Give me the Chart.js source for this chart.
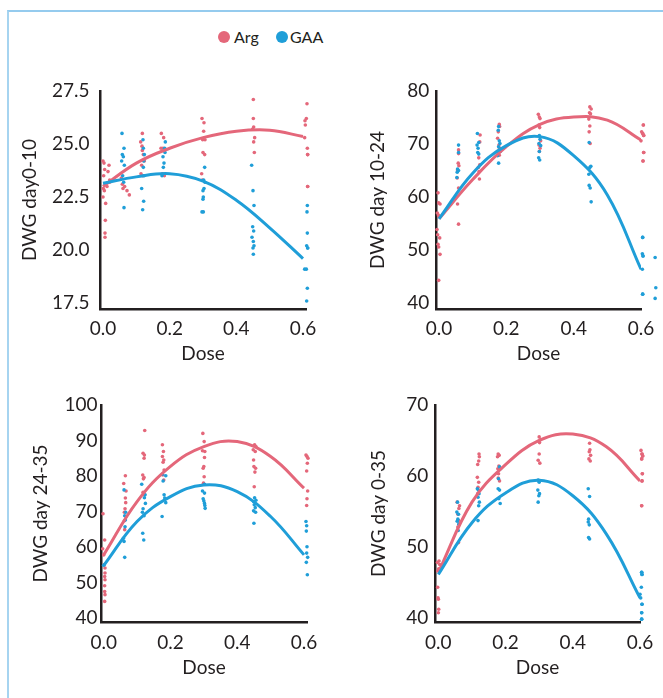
<!DOCTYPE html>
<html>
<head>
<meta charset="utf-8">
<script src="https://cdn.jsdelivr.net/npm/chart.js@4.4.0/dist/chart.umd.min.js"></script>
<style>
  body { margin: 0; background: #fff; width: 663px; height: 698px; overflow: hidden; position: relative; font-family: Lato, sans-serif; }
  .frame { position: absolute; left: 7px; top: 10px; width: 720px; height: 740px; border-left: 2px solid #a6d4f0; border-top: 2px solid #95cbee; }
  .dot { position: absolute; width: 12px; height: 12px; border-radius: 50%; top: 31px; }
  .lab { position: absolute; top: 27px; font-size: 16px; color: #231f20; line-height: 20px; }
  canvas { position: absolute; }
</style>
</head>
<body>
<div class="frame"></div>
<span class="dot" style="left:218px;background:#e4677a"></span><span class="lab" style="left:234px">Arg</span>
<span class="dot" style="left:276px;background:#1f9ed8"></span><span class="lab" style="left:290px">GAA</span>

<canvas id="c1" width="320" height="320" style="left:10px;top:60px"></canvas>
<canvas id="c2" width="323" height="320" style="left:340px;top:60px"></canvas>
<canvas id="c3" width="320" height="320" style="left:10px;top:375px"></canvas>
<canvas id="c4" width="323" height="320" style="left:340px;top:375px"></canvas>

<script>
const ARG = '#e4677a';
const GAA = '#1f9ed8';
const INK = '#231f20';

Chart.defaults.font.family = 'Lato, sans-serif';
Chart.defaults.font.size = 19;
Chart.defaults.color = INK;

// x axis shared by all panels
const doseTicks = [0, 0.2, 0.4, 0.6];
const curveDose = [0, 0.1, 0.2, 0.3, 0.4, 0.5, 0.6];

// --- DWG day0-10
const p1Ticks = [17.5, 20, 22.5, 25, 27.5];
const p1ArgFit = [23.0, 24.1, 24.8, 25.3, 25.6, 25.65, 25.35];
const p1GaaFit = [23.15, 23.45, 23.6, 23.25, 22.35, 21.05, 19.6];
const p1Arg = [
  [0.000,24.2],[0.003,24.1],[0.018,24.0],[0.005,23.8],[0.015,23.7],[0.002,23.5],[0.020,23.3],[0.012,23.0],
  [0.001,22.9],[0.004,22.8],[0.000,22.5],[0.008,22.2],[0.007,21.4],[0.006,20.8],[0.006,20.6],[0.020,23.2],
  [0.055,23.4],[0.058,23.1],[0.060,22.9],[0.065,23.0],[0.072,22.8],[0.079,22.6],
  [0.118,25.5],[0.113,25.1],[0.117,24.9],[0.118,24.7],[0.121,24.5],[0.124,24.2],[0.116,24.0],[0.114,23.6],[0.119,23.5],
  [0.175,25.5],[0.182,25.3],[0.174,24.8],[0.180,24.8],[0.178,23.6],[0.184,23.5],
  [0.297,26.2],[0.303,26.0],[0.302,25.6],[0.299,25.2],[0.306,25.2],[0.300,24.6],[0.305,24.5],[0.296,23.6],[0.298,23.3],
  [0.451,27.1],[0.451,26.2],[0.452,25.8],[0.449,25.7],[0.455,25.3],[0.452,25.1],[0.454,24.6],
  [0.612,26.9],[0.610,26.2],[0.606,26.1],[0.607,25.9],[0.605,25.3],[0.613,24.8],[0.614,24.5],[0.614,23.0]
];
const p1Gaa = [
  [0.057,25.5],[0.063,24.8],[0.058,24.5],[0.061,24.4],[0.056,24.2],[0.064,24.0],[0.059,23.5],[0.062,23.2],[0.063,22.0],
  [0.120,25.2],[0.121,24.8],[0.124,24.5],[0.122,24.2],[0.121,23.9],[0.123,23.5],[0.116,22.9],[0.122,22.3],[0.119,21.9],
  [0.187,25.1],[0.185,24.8],[0.186,24.6],[0.180,24.4],[0.183,24.1],[0.181,23.9],[0.177,23.5],
  [0.305,23.9],[0.302,23.3],[0.306,23.2],[0.303,22.9],[0.300,22.8],[0.301,22.5],[0.300,22.4],[0.297,21.8],[0.301,21.8],
  [0.446,24.0],[0.450,22.8],[0.453,22.1],[0.449,21.1],[0.452,20.9],[0.447,20.6],[0.451,20.4],[0.453,20.2],[0.450,20.1],[0.451,19.8],
  [0.613,22.1],[0.612,21.8],[0.613,20.8],[0.611,20.2],[0.614,20.1],[0.605,19.1],[0.610,19.1],[0.613,18.2],[0.611,17.6]
];

// --- DWG day 10-24
const p2Ticks = [40, 50, 60, 70, 80];
const p2ArgFit = [55.9, 63.3, 69.5, 73.7, 75.1, 74.5, 70.75];
const p2GaaFit = [55.9, 64.5, 69.7, 71.4, 67.8, 60.4, 46.4];
const p2Arg = [
  [-0.003,60.8],[-0.001,58.9],[0.003,58.7],[-0.005,57.0],[-0.002,56.6],[0.000,56.4],[-0.006,53.9],[-0.004,52.9],
  [0.002,52.3],[-0.003,51.1],[-0.001,50.6],[0.003,49.2],[-0.001,44.3],
  [0.058,68.9],[0.058,68.2],[0.057,66.4],[0.059,65.9],[0.055,65.1],[0.054,63.6],[0.058,61.7],[0.055,58.7],[0.058,54.9],
  [0.122,71.7],[0.121,70.4],[0.118,67.4],[0.121,66.1],[0.117,65.6],[0.119,64.8],[0.120,63.4],
  [0.179,73.7],[0.180,73.3],[0.176,72.3],[0.174,71.1],[0.178,69.8],[0.180,69.2],[0.176,68.2],[0.179,67.9],
  [0.295,75.6],[0.298,75.1],[0.300,74.8],[0.297,73.6],[0.299,73.1],[0.302,70.6],[0.297,69.8],[0.300,69.2],[0.298,68.6],
  [0.448,77.0],[0.452,76.6],[0.447,75.9],[0.450,75.7],[0.445,74.7],[0.448,73.4],[0.446,72.3],[0.449,70.1],
  [0.607,73.6],[0.602,72.3],[0.605,72.0],[0.608,71.6],[0.600,70.6],[0.608,68.4],[0.606,66.8]
];
const p2Gaa = [
  [0.058,69.8],[0.058,68.4],[0.055,65.3],[0.058,65.0],[0.054,64.7],[0.053,63.7],
  [0.114,72.0],[0.118,70.3],[0.113,69.8],[0.116,69.2],[0.115,68.4],[0.118,68.1],
  [0.177,73.3],[0.176,72.6],[0.179,70.6],[0.181,70.1],[0.177,69.5],[0.182,68.6],[0.174,67.8],[0.177,66.4],
  [0.298,71.6],[0.300,70.9],[0.297,70.1],[0.302,69.7],[0.298,68.6],[0.296,67.4],[0.299,67.0],
  [0.446,70.3],[0.451,65.8],[0.448,65.6],[0.445,64.3],[0.446,62.2],[0.449,61.7],[0.452,59.1],
  [0.605,52.4],[0.604,49.3],[0.606,48.9],[0.604,46.4],[0.605,41.7],
  [0.642,48.6],[0.644,42.9],[0.642,40.9]
];

// --- DWG day 24-35
const p3Ticks = [40, 50, 60, 70, 80, 90, 100];
const p3ArgFit = [57.8, 72.8, 82.7, 88.3, 89.7, 85.5, 76.6];
const p3GaaFit = [54.8, 67.2, 74.2, 77.5, 75.6, 68.6, 57.8];
const p3Arg = [
  [-0.002,69.4],[0.003,62.0],[-0.003,59.5],[0.000,57.8],[0.001,55.0],[0.004,54.1],[0.004,52.7],[0.003,51.7],
  [0.004,50.8],[0.003,49.1],[0.003,47.5],[0.004,46.6],[0.003,44.7],
  [0.065,80.1],[0.060,77.9],[0.067,75.8],[0.065,73.8],[0.066,72.5],[0.064,70.8],[0.062,69.8],[0.067,68.6],[0.062,67.4],[0.063,64.9],
  [0.123,92.8],[0.118,86.4],[0.122,85.9],[0.121,85.0],[0.117,80.3],[0.121,79.6],[0.119,79.2],[0.118,75.4],[0.122,74.7],
  [0.176,88.8],[0.179,86.9],[0.176,85.5],[0.180,84.5],[0.178,83.9],[0.181,81.7],[0.177,80.3],[0.180,78.9],
  [0.297,92.0],[0.301,89.7],[0.296,87.1],[0.303,86.9],[0.302,85.2],[0.300,82.7],[0.298,82.2],[0.301,79.8],[0.299,78.0],
  [0.452,88.8],[0.456,88.3],[0.448,87.4],[0.454,86.9],[0.449,84.5],[0.450,82.7],[0.455,82.2],[0.453,81.1],[0.451,77.0],
  [0.606,85.9],[0.609,85.5],[0.612,85.0],[0.610,83.6],[0.608,81.4],[0.611,75.8],[0.609,73.6],[0.608,71.7]
];
const p3Gaa = [
  [0.000,54.9],
  [0.061,76.1],[0.066,69.8],[0.063,68.8],[0.065,67.6],[0.064,65.7],[0.059,62.5],[0.061,61.6],[0.063,57.1],
  [0.114,77.7],[0.124,74.7],[0.122,73.9],[0.125,72.3],[0.118,70.8],[0.116,69.8],[0.121,68.8],[0.117,63.9],[0.120,62.0],
  [0.176,80.5],[0.186,80.1],[0.178,78.6],[0.181,74.7],[0.183,73.8],[0.186,72.5],[0.175,68.6],
  [0.302,77.7],[0.296,75.8],[0.302,75.2],[0.298,73.6],[0.300,73.0],[0.302,72.3],[0.303,71.7],[0.304,70.9],
  [0.452,73.9],[0.456,73.2],[0.449,72.8],[0.451,71.9],[0.454,71.1],[0.449,70.2],[0.455,69.8],[0.450,66.7],
  [0.606,67.2],[0.608,66.0],[0.607,64.5],[0.609,60.1],[0.608,58.3],[0.611,57.1],[0.607,55.7],[0.610,52.2]
];

// --- DWG day 0-35
const p4Ticks = [40, 50, 60, 70];
const p4ArgFit = [46.4, 56.3, 61.6, 65.0, 65.9, 64.1, 59.3];
const p4GaaFit = [46.1, 53.4, 57.6, 59.4, 57.2, 51.8, 42.8];
const p4Arg = [
  [0.002,48.0],[-0.003,47.8],[0.004,47.5],[0.001,46.9],[-0.002,46.6],[-0.002,44.3],[-0.001,42.8],[0.000,42.6],[0.001,41.2],[0.000,40.7],
  [0.056,56.3],[0.063,55.8],[0.061,55.4],[0.058,54.6],[0.060,53.7],[0.062,53.2],[0.058,52.8],[0.060,50.6],
  [0.121,63.1],[0.122,62.7],[0.120,62.1],[0.117,61.6],[0.116,59.8],[0.120,59.1],[0.118,58.4],[0.117,57.5],
  [0.178,63.1],[0.181,62.9],[0.176,62.7],[0.180,61.4],[0.177,61.0],[0.179,60.3],[0.178,59.7],[0.182,59.3],
  [0.300,65.5],[0.304,65.1],[0.301,64.7],[0.300,63.1],[0.297,62.2],[0.302,61.8],
  [0.450,64.6],[0.451,63.7],[0.449,63.4],[0.453,62.9],[0.448,62.4],[0.452,62.1],
  [0.603,63.6],[0.606,63.1],[0.608,62.8],[0.605,62.4],[0.607,60.3],[0.606,59.3],[0.605,55.8]
];
const p4Gaa = [
  [0.057,56.3],[0.055,54.9],[0.060,54.6],[0.058,53.9],[0.056,53.6],[0.061,53.2],[0.059,52.3],
  [0.116,58.2],[0.119,58.0],[0.121,57.5],[0.118,57.0],[0.122,56.3],[0.120,55.8],[0.118,53.7],
  [0.182,61.3],[0.185,61.0],[0.179,59.6],[0.178,58.2],[0.182,58.0],[0.180,56.8],[0.184,56.1],
  [0.297,59.4],[0.300,59.1],[0.296,58.0],[0.301,57.5],[0.299,57.2],[0.297,56.3],
  [0.446,58.2],[0.450,57.1],[0.447,53.9],[0.446,53.5],[0.449,53.1],[0.447,51.3],[0.450,51.1],
  [0.605,46.4],[0.606,46.1],[0.604,44.3],[0.600,43.3],[0.602,42.8],[0.606,41.9],[0.605,40.7],[0.605,39.8]
];

function pts(list) { return list.map(([x, y]) => ({ x, y })); }
function fit(vals) { return curveDose.map((x, i) => ({ x, y: vals[i] })); }

// Chart.js skips points lying right of the chart area even with clip:false,
// so redraw those (already placed by the x scale) after the datasets
const overflowDots = {
  id: 'overflowDots',
  afterDatasetsDraw(chart) {
    const area = chart.chartArea;
    chart.data.datasets.forEach((ds, i) => {
      if (ds.showLine) return;
      chart.getDatasetMeta(i).data.forEach(el => {
        if (el.x > area.right + 1.5) el.draw(chart.ctx);
      });
    });
  }
};

function makePanel(id, p) {
  const lineDs = (vals, color) => ({
    data: fit(vals), showLine: true, borderColor: color, borderWidth: 3,
    pointRadius: 0, tension: 0.4, fill: false
  });
  const dotDs = (list, color) => ({
    data: pts(list), backgroundColor: color, borderWidth: 0, pointRadius: 1.8, clip: false
  });

  new Chart(document.getElementById(id), {
    type: 'scatter',
    data: {
      datasets: [
        lineDs(p.gaaFit, GAA),
        lineDs(p.argFit, ARG),
        dotDs(p.gaa, GAA),
        dotDs(p.arg, ARG)
      ]
    },
    plugins: [overflowDots],
    options: {
      responsive: false,
      animation: false,
      events: [],
      layout: { padding: p.pad },
      plugins: { legend: { display: false }, tooltip: { enabled: false } },
      scales: {
        x: {
          type: 'linear', min: p.xMin, max: p.xMax,
          afterBuildTicks: s => { s.ticks = doseTicks.map(v => ({ value: v })); },
          afterFit: s => { s.height = p.xH; },
          grid: { display: false, drawTicks: false },
          border: { color: INK, width: 2.5 },
          ticks: { padding: p.xPad, color: INK, callback: v => v.toFixed(1) },
          title: { display: true, text: 'Dose', color: INK, padding: { top: 0, bottom: p.xTitlePad } }
        },
        y: {
          type: 'linear', min: p.yMin, max: p.yMax,
          afterBuildTicks: s => { s.ticks = p.ticks.map(v => ({ value: v })); },
          afterFit: s => { s.width = p.yW; },
          grid: { display: false, drawTicks: false },
          border: { color: INK, width: 2.5 },
          ticks: { padding: p.yPad, color: INK, callback: v => p.dec ? v.toFixed(1) : v },
          title: { display: true, text: p.title, color: INK, padding: { top: p.yTitlePad, bottom: 0 } }
        }
      }
    }
  });
}

makePanel('c1', {
  title: 'DWG day0-10', ticks: p1Ticks, dec: true,
  argFit: p1ArgFit, gaaFit: p1GaaFit, arg: p1Arg, gaa: p1Gaa,
  xMin: -0.009, xMax: 0.609, yMin: 17.22, yMax: 27.5,
  pad: { top: 31, right: 24, left: 0, bottom: 0 },
  yW: 90, xH: 71, xPad: 8, yPad: 10.5, xTitlePad: 14.6, yTitlePad: 8.6
});
makePanel('c2', {
  title: 'DWG day 10-24', ticks: p2Ticks, dec: false,
  argFit: p2ArgFit, gaaFit: p2GaaFit, arg: p2Arg, gaa: p2Gaa,
  xMin: -0.009, xMax: 0.6, yMin: 38.9, yMax: 80,
  pad: { top: 31, right: 22, left: 0, bottom: 0 },
  yW: 96, xH: 71, xPad: 8, yPad: 6.7, xTitlePad: 14.6, yTitlePad: 26.6
});
makePanel('c3', {
  title: 'DWG day 24-35', ticks: p3Ticks, dec: false,
  argFit: p3ArgFit, gaaFit: p3GaaFit, arg: p3Arg, gaa: p3Gaa,
  xMin: -0.008, xMax: 0.609, yMin: 38.9, yMax: 100,
  pad: { top: 30, right: 23, left: 0, bottom: 0 },
  yW: 91, xH: 73, xPad: 9, yPad: 3.5, xTitlePad: 16, yTitlePad: 19.6
});
makePanel('c4', {
  title: 'DWG day 0-35', ticks: p4Ticks, dec: false,
  argFit: p4ArgFit, gaaFit: p4GaaFit, arg: p4Arg, gaa: p4Gaa,
  xMin: -0.01, xMax: 0.6, yMin: 39.4, yMax: 70,
  pad: { top: 30, right: 23, left: 0, bottom: 0 },
  yW: 95, xH: 73, xPad: 9, yPad: 6.7, xTitlePad: 16, yTitlePad: 27.6
});
</script>
</body>
</html>
